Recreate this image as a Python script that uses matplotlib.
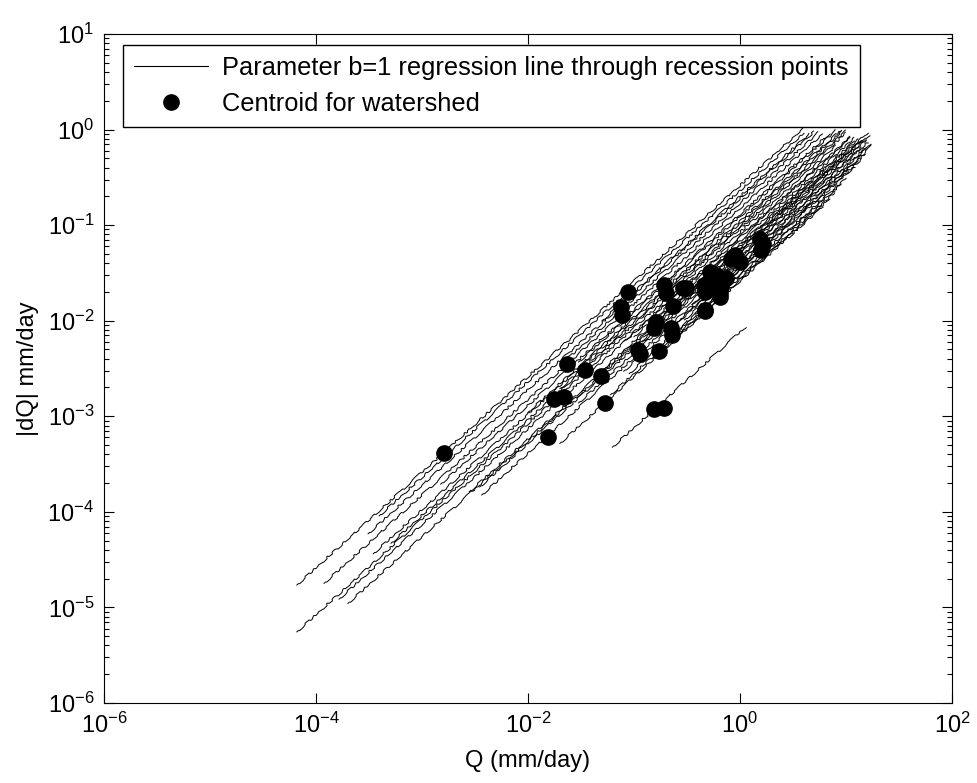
import numpy as np
import matplotlib
matplotlib.use("Agg")
import matplotlib.pyplot as plt
from matplotlib.ticker import LogLocator, NullLocator

plt.rcParams['font.family'] = ['Liberation Sans', 'DejaVu Sans']
plt.rcParams['mathtext.fontset'] = 'custom'
plt.rcParams['mathtext.rm'] = 'Liberation Sans'
plt.rcParams['mathtext.it'] = 'Liberation Sans:italic'

# regression lines |dQ| = k * Q (b = 1), each drawn from q_min to q_max
line_k = [0.26, 0.084, 0.15, 0.074, 0.055, 0.19, 0.105, 0.23, 0.092, 0.13,
          0.058, 0.041, 0.052, 0.0076, 0.026, 0.046, 0.028, 0.061, 0.097, 0.123,
          0.037, 0.031, 0.063, 0.050, 0.030, 0.038, 0.055, 0.042, 0.035, 0.046,
          0.068, 0.034, 0.027, 0.20, 0.17, 0.11, 0.076]
line_qmin = [6.6e-5, 6.6e-5, 1.19e-4, 1.65e-4, 2.0e-4, 3.1e-4, 3.47e-4, 3.95e-4, 5.1e-4, 1.5e-3,
             2.8e-3, 3.66e-3, 3.5e-3, 0.0625, 0.02, 0.03, 0.06, 0.05, 0.02, 0.03,
             0.08, 0.09, 0.15, 0.12, 0.2, 0.25, 0.3, 0.35, 0.5, 0.4,
             0.1, 0.3, 0.15, 0.05, 0.02, 0.01, 0.08]
line_qmax = [5, 8, 6, 11, 14, 5, 9, 4, 10, 7,
             16, 17, 15, 1.13, 6, 14, 8, 13, 10, 8,
             15, 10, 12, 17, 9, 16, 15, 17, 14, 16,
             12, 12, 7, 4.5, 5.5, 9, 11]

# centroids for each watershed
cen_q = [1.6e-3, 0.0154, 0.0175, 0.0218, 0.0234, 0.0342, 0.0485, 0.0528, 0.075, 0.0778,
         0.088, 0.108, 0.113, 0.155, 0.19, 0.173, 0.161, 0.156, 0.193, 0.20,
         0.223, 0.228, 0.288, 0.232, 0.463, 0.516, 0.498, 0.641, 0.741, 0.891,
         1.0, 1.58, 1.65, 1.55, 0.593, 0.661, 0.641, 0.308, 0.466, 0.46,
         0.47, 0.82]
cen_dq = [4.1e-4, 6.1e-4, 1.52e-3, 1.6e-3, 3.5e-3, 3.05e-3, 2.65e-3, 1.37e-3, 0.014, 0.0115,
          0.0201, 4.96e-3, 4.5e-3, 1.18e-3, 1.22e-3, 4.87e-3, 9.8e-3, 8.4e-3, 0.0237, 0.0194,
          8.4e-3, 7.1e-3, 0.0219, 0.0141, 0.013, 0.0327, 0.0247, 0.0194, 0.0279, 0.0488,
          0.0415, 0.055, 0.0636, 0.0718, 0.0301, 0.0226, 0.0179, 0.022, 0.0127, 0.0235,
          0.0198, 0.0443]

fig = plt.figure(figsize=(9.77, 7.83), dpi=100)
ax = fig.add_axes([0.1064, 0.1022, 0.868, 0.8544])

for k, q0, q1 in zip(line_k, line_qmin, line_qmax):
    q = np.array([q0, q1])
    ln, = ax.plot(q, k * q, '-', color='black', lw=0.7)
    ln.set_sketch_params(scale=1.0, length=28, randomness=12)

# straight proxy for the legend entry
ax.plot([], [], '-', color='black', lw=0.8,
        label='Parameter b=1 regression line through recession points')
ax.plot(cen_q, cen_dq, 'o', color='black', markersize=11, linestyle='none',
        label='Centroid for watershed', zorder=3)

ax.set_xscale('log')
ax.set_yscale('log')
ax.set_xlim(1e-6, 1e2)
ax.set_ylim(1e-6, 1e1)
ax.set_xticks([1e-6, 1e-4, 1e-2, 1e0, 1e2])
ax.xaxis.set_minor_locator(NullLocator())
ax.yaxis.set_major_locator(LogLocator(base=10, numticks=20))
ax.yaxis.set_minor_locator(LogLocator(base=10, subs=np.arange(2, 10), numticks=20))
ax.tick_params(which='both', direction='in', top=True, right=True, labelsize=17)
ax.tick_params(which='major', length=7, width=0.8)
ax.tick_params(which='minor', length=3.5, width=0.8)
ax.tick_params(axis='x', which='major', pad=7)
ax.tick_params(axis='y', which='major', pad=7)

ax.set_xlabel('Q (mm/day)', fontsize=17, labelpad=9)
ax.set_ylabel('|dQ| mm/day', fontsize=17, labelpad=6)

leg = ax.legend(loc='upper left', bbox_to_anchor=(0.0224, 0.9836), borderaxespad=0,
                fontsize=18.3, fancybox=False, edgecolor='black', framealpha=1,
                handlelength=2.9, handletextpad=0.55, labelspacing=0.45, borderpad=0.45)
leg.get_frame().set_linewidth(1.0)
leg.set_zorder(5)

plt.savefig('out.png', dpi=100)
